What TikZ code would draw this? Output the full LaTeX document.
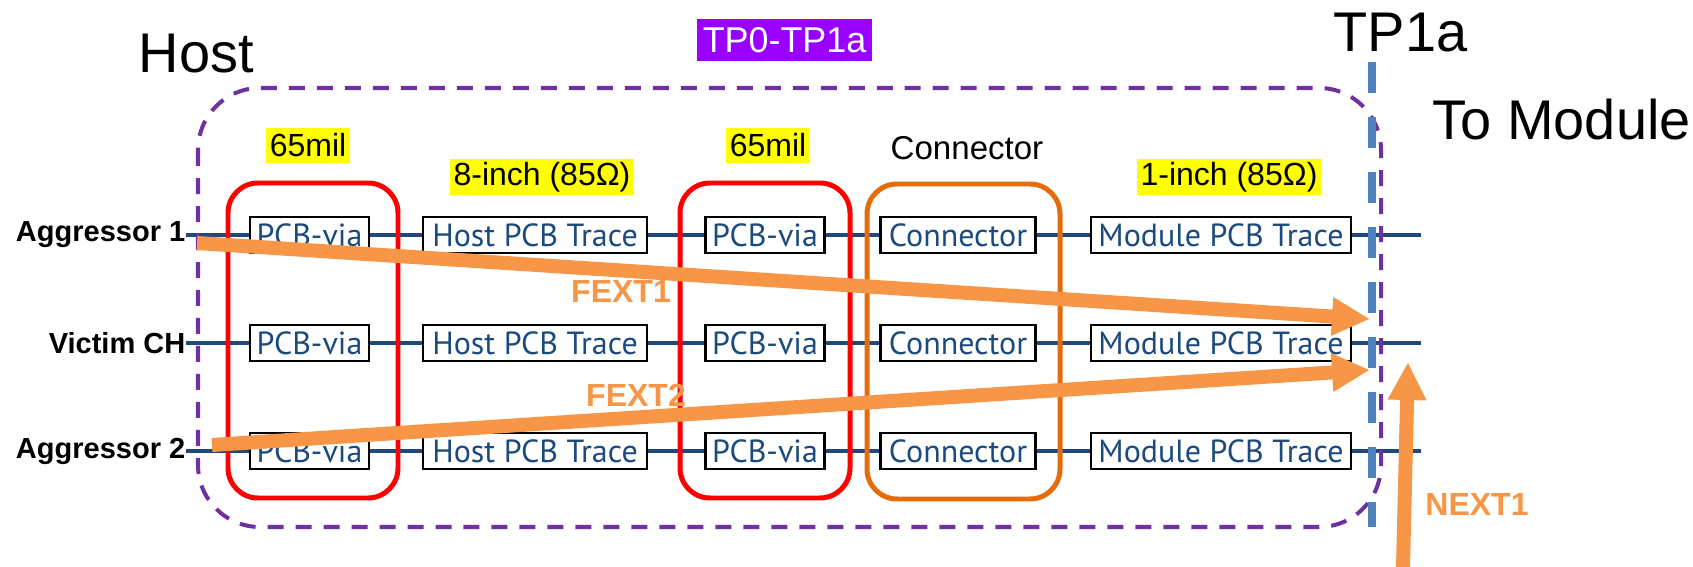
\documentclass[tikz,border=0pt]{standalone}
\usepackage{fontspec}
\setmainfont{Liberation Sans}
\newfontfamily\boxfont{PT Sans}
\usetikzlibrary{arrows.meta}

\definecolor{rowblue}{HTML}{1F497D}
\definecolor{boxtext}{HTML}{1B4B7E}
\definecolor{grpred}{HTML}{FF0000}
\definecolor{grporange}{HTML}{E46C0A}
\definecolor{hostpurple}{HTML}{7030A0}
\definecolor{tagviolet}{HTML}{9900FF}
\definecolor{tpblue}{HTML}{4F81BD}
\definecolor{xtalk}{HTML}{F79646}
\definecolor{hl}{HTML}{FFFF00}

\begin{document}
\begin{tikzpicture}[x=0.01cm,y=-0.01cm,
  blk/.style={draw=black,line width=0.6pt,fill=white,inner sep=0pt,
    minimum height=0.36cm,text=boxtext,font=\boxfont\fontsize{9.1}{10}\selectfont},
  viabox/.style={blk,minimum width=1.19cm},
  tracebox/.style={blk,minimum width=2.23cm},
  connbox/.style={blk,minimum width=1.55cm},
  modbox/.style={blk,minimum width=2.60cm},
  rowlabel/.style={anchor=east,inner sep=0pt,font=\bfseries\fontsize{8.25}{9}\selectfont},
  rowline/.style={draw=rowblue,line width=1.14pt},
  bigtext/.style={inner sep=0pt,font=\fontsize{15.9}{18}\selectfont},
  tag/.style={fill=hl,inner xsep=1pt,inner ysep=0pt,minimum height=0.35cm,
    font=\fontsize{9.1}{10}\selectfont},
  grpbox/.style={line width=1.42pt,rounded corners=0.3cm},
  xarrow/.style={draw=xtalk,line width=3.98pt,
    -{Triangle[length=0.38cm,width=0.36cm]}},
  xlabel/.style={text=xtalk,inner sep=0pt,font=\bfseries\fontsize{9.1}{10}\selectfont}
]
\useasboundingbox (0,0) rectangle (1693,567);

% rows of blocks
\foreach \r/\y/\lab in {a1/235/Aggressor 1, vc/343/Victim CH, a2/451/Aggressor 2}{
  \node[rowlabel] (\r lab) at (186,\y) {\lab};
  \node[viabox]   (\r v1) at (309.5,\y) {PCB-via};
  \node[tracebox] (\r tr) at (535,\y) {Host PCB Trace};
  \node[viabox]   (\r v2) at (765,\y) {PCB-via};
  \node[connbox]  (\r cn) at (958,\y) {Connector};
  \node[modbox]   (\r mt) at (1221,\y) {Module PCB Trace};
  \coordinate (\r end) at (1421,\y);
  \draw[rowline] (\r lab.east) -- (\r v1) -- (\r tr) -- (\r v2) -- (\r cn) -- (\r mt) -- (\r end);
}

% component groups
\draw[grpbox,draw=grpred] (228,183) rectangle (398,498);
\draw[grpbox,draw=grpred] (680,183) rectangle (850,498);
\draw[grpbox,draw=grporange] (867,184) rectangle (1060,499);

% host boundary
\draw[draw=hostpurple,line width=1.14pt,dash pattern=on 4.55pt off 3.41pt,
  rounded corners=0.62cm] (198,88) rectangle (1381,527);

% TP1a reference plane
\coordinate (tptop) at (1372,62);
\coordinate (tpbot) at (1372,527);
\draw[draw=tpblue,line width=2.28pt,dash pattern=on 8.82pt off 6.83pt] (tptop) -- (tpbot);

% titles
\node[bigtext,anchor=base west] (host) at (138,73) {Host};
\node[bigtext,anchor=base west] (tp1a) at (1333,52) {TP1a};
\node[bigtext,anchor=base west] (tomod) at (1432,140) {To Module};
\node[fill=tagviolet,text=white,inner xsep=1.6pt,inner ysep=0pt,minimum height=0.42cm,
  minimum width=1.71cm,font=\fontsize{10.2}{11}\selectfont] (span) at (784.5,40) {TP0-TP1a};

% block group labels
\node[tag] (mil1) at (308,145.5) {65mil};
\node[tag] (len8) at (542,177) {8-inch (85Ω)};
\node[tag] (mil2) at (768,145.5) {65mil};
\node[inner sep=0pt,font=\fontsize{9.4}{10}\selectfont] (connlab) at (967,148) {Connector};
\node[tag] (len1) at (1229,177) {1-inch (85Ω)};

% crosstalk paths
\coordinate (f1s) at (197,243);
\coordinate (f1e) at (1370,319);
\coordinate (f2s) at (212,445);
\coordinate (f2e) at (1370,370);
\coordinate (n1s) at (1403,567);
\coordinate (n1e) at (1408,362);
\draw[xarrow] (f1s) -- (f1e);
\draw[xarrow] (f2s) -- (f2e);
\draw[xarrow] (n1s) -- (n1e);
\node[xlabel] (fext1) at (621,291) {FEXT1};
\node[xlabel] (fext2) at (636,395) {FEXT2};
\node[xlabel] (next1) at (1477,504) {NEXT1};
\end{tikzpicture}
\end{document}
